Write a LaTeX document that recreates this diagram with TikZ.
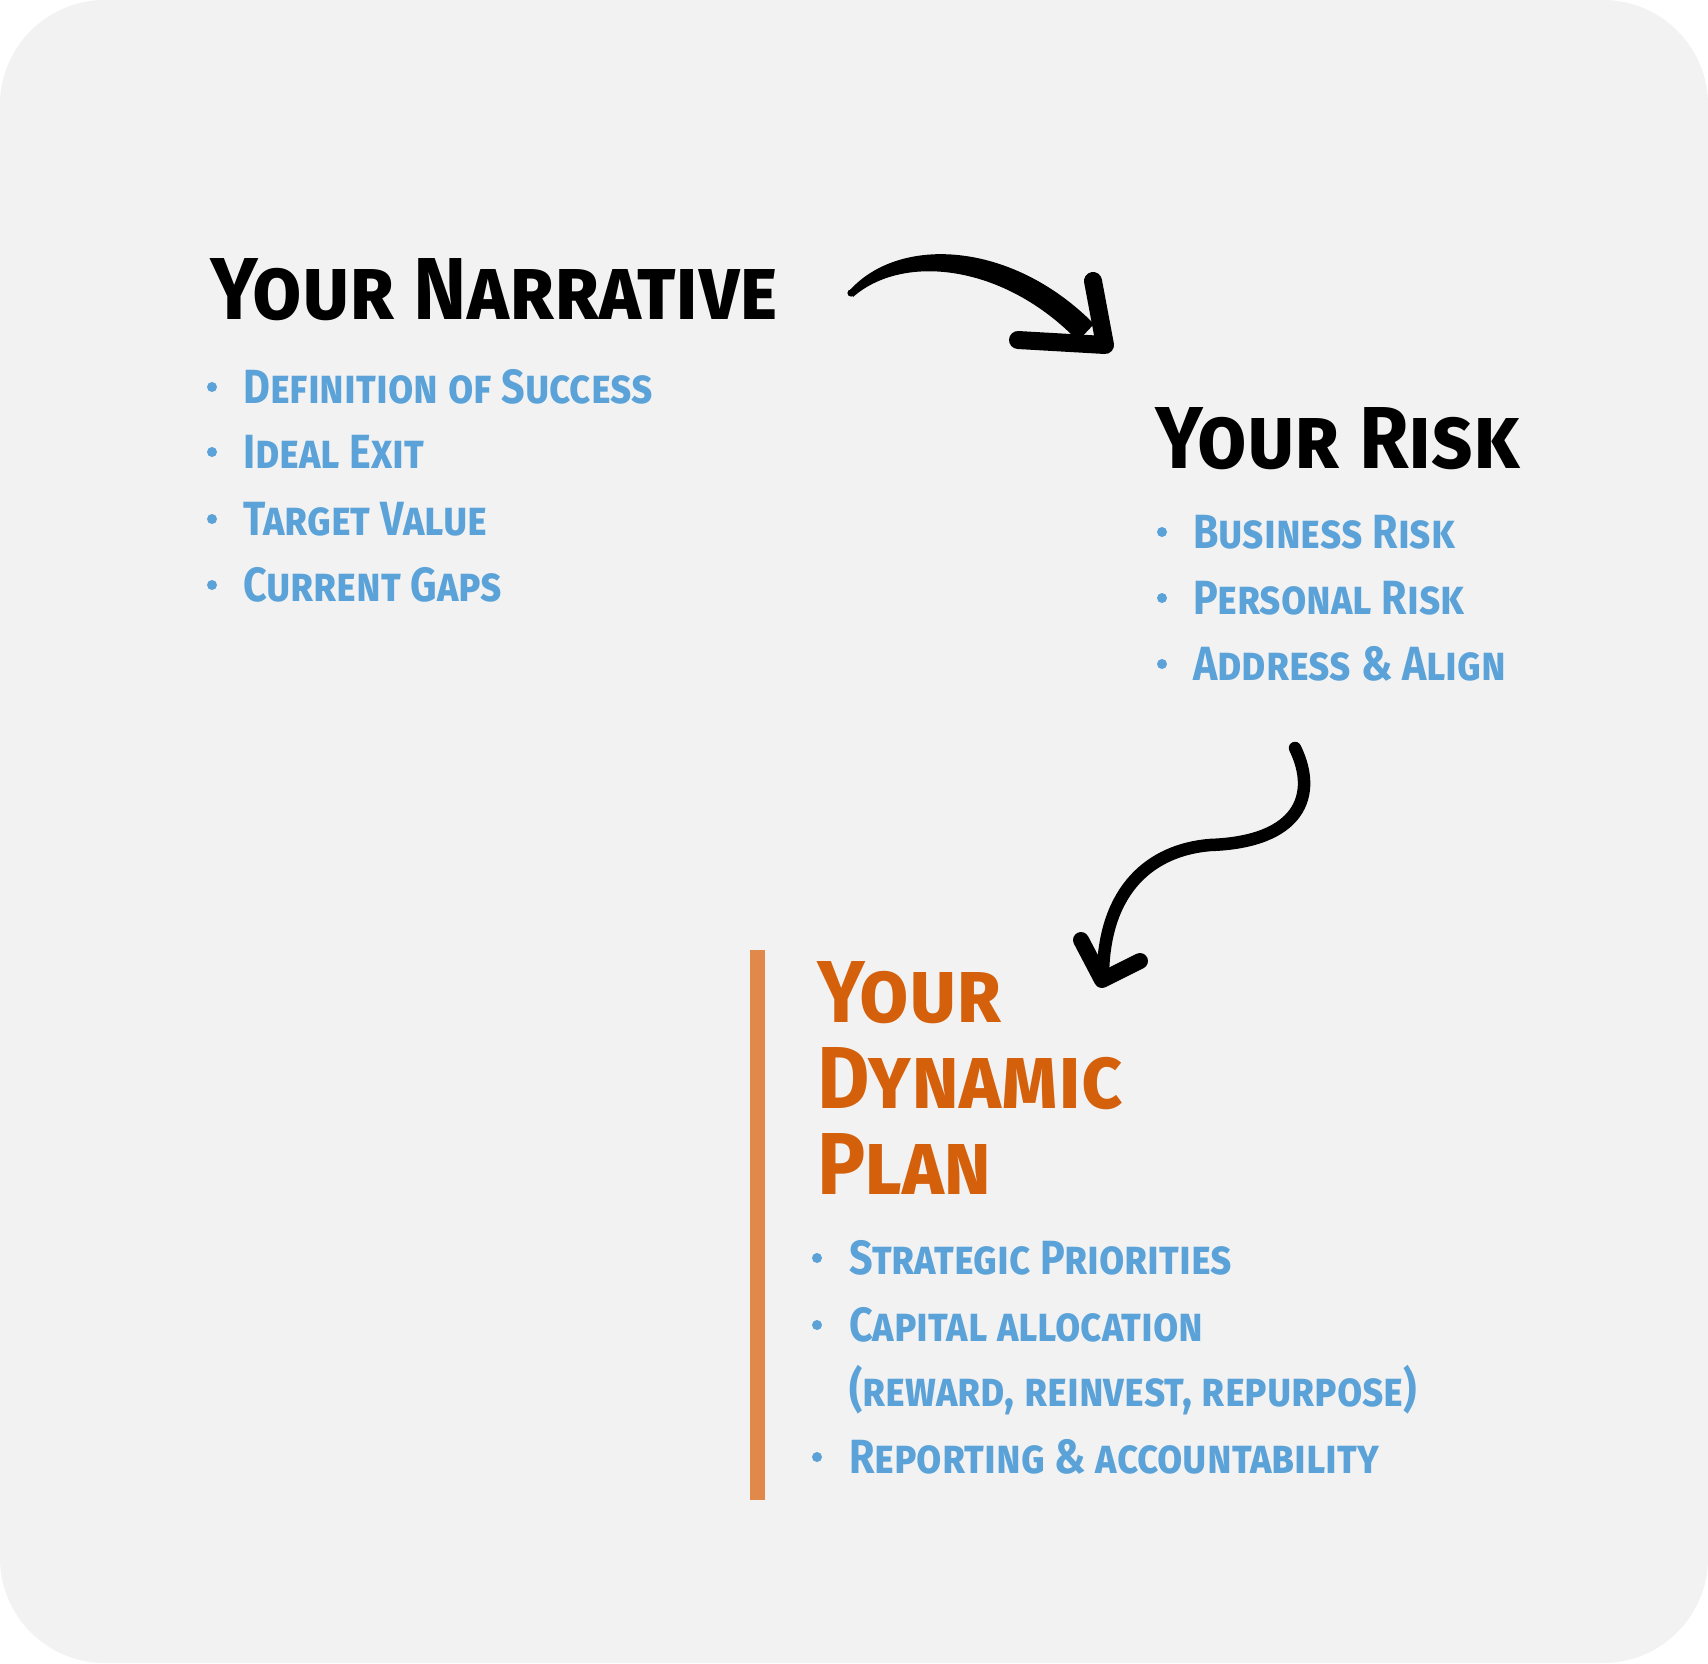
\documentclass[tikz,border=0pt]{standalone}
\usepackage{fontspec}
\newfontfamily\handhead{Fira Sans}[Letters=SmallCaps,FakeStretch=0.915]
\newfontfamily\handitem{Fira Sans}[Letters=SmallCaps,FakeStretch=0.86]
\definecolor{bg}{HTML}{F2F2F2}
\definecolor{itemblue}{HTML}{5AA2D8}
\definecolor{planorange}{HTML}{D5600C}
\definecolor{barorange}{HTML}{E0894A}
\begin{document}
\begin{tikzpicture}[x=1pt,y=-1pt,
  headblack/.style={anchor=base west,inner sep=0pt,font=\handhead\bfseries\fontsize{88}{88}\selectfont,text=black},
  headorange/.style={anchor=north west,inner sep=0pt,align=left,font=\handhead\bfseries\fontsize{88}{86}\selectfont,text=planorange},
  item/.style={anchor=base west,inner sep=0pt,font=\handitem\bfseries\fontsize{48}{48}\selectfont,text=itemblue},
  dot/.style={circle,fill=itemblue,inner sep=0pt,minimum size=10pt},
  stroke/.style={line cap=round,line join=round}]
\useasboundingbox (0,0) rectangle (1708,1663);
\fill[white] (0,0) rectangle (1708,1663);
\fill[bg,rounded corners=105pt] (0,0) rectangle (1708,1663);

% Your Narrative
\node[headblack] (narr) at (210,319) {Your Narrative};
\node[dot] (nb1) at (212,387) {};
\node[dot] (nb2) at (212,452) {};
\node[dot] (nb3) at (212,519) {};
\node[dot] (nb4) at (212,585) {};
\node[item] (n1) at (243,403) {Definition of Success};
\node[item] (n2) at (243,468) {Ideal Exit};
\node[item] (n3) at (243,535) {Target Value};
\node[item] (n4) at (243,601) {Current Gaps};

% Your Risk
\node[headblack] (risk) at (1155,468) {Your Risk};
\node[dot] (rb1) at (1162,532) {};
\node[dot] (rb2) at (1162,598) {};
\node[dot] (rb3) at (1162,664) {};
\node[item] (r1) at (1193,548) {Business Risk};
\node[item] (r2) at (1193,614) {Personal Risk};
\node[item] (r3) at (1193,680) {Address \& Align};

% Your Dynamic Plan
\draw[barorange,line width=15pt] (757,950) -- (757,1500);
\node[headorange] (plan) at (817,961) {Your\\Dynamic\\Plan};
\node[dot] (pb1) at (817,1258) {};
\node[dot] (pb2) at (817,1325) {};
\node[dot] (pb4) at (817,1457) {};
\node[item] (p1) at (849,1274) {Strategic Priorities};
\node[item] (p2) at (849,1341) {Capital allocation};
\node[item] (p3) at (849,1406) {(reward, reinvest, repurpose)};
\node[item] (p4) at (849,1473) {Reporting \& accountability};

% Arrow 1
\coordinate (a1start) at (851,293);
\coordinate (a1up) at (1093,281);
\coordinate (a1tip) at (1105,345);
\coordinate (a1left) at (1018,340);
\fill (850,290) .. controls (900,235) and (1012,241) .. (1094,324) -- (1078,341) .. controls (1004,264) and (903,253) .. (853,297) -- cycle;
\fill (a1start) circle (3.6pt);
\draw[stroke,line width=18pt] (a1up) -- (a1tip) -- (a1left);

% Arrow 2
\coordinate (a2start) at (1295,748);
\coordinate (a2mid) at (1210,845);
\coordinate (a2end) at (1103,972);
\coordinate (a2left) at (1081,940);
\coordinate (a2tip) at (1102,980);
\coordinate (a2right) at (1140,961);
\draw[stroke,line width=12.5pt] (a2start) .. controls (1318,795) and (1300,842) .. (a2mid) .. controls (1150,850) and (1105,890) .. (a2end);
\draw[stroke,line width=16pt] (a2left) -- (a2tip) -- (a2right);
\end{tikzpicture}
\end{document}
